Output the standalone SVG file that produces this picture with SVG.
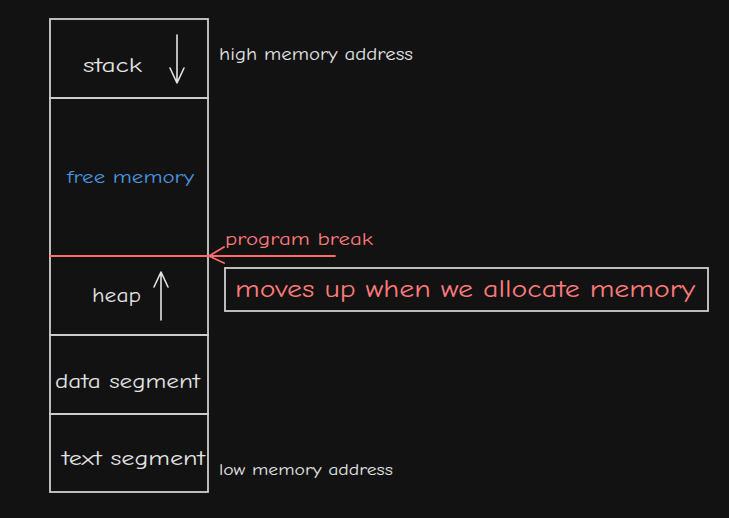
<svg xmlns="http://www.w3.org/2000/svg" width="729" height="518" viewBox="0 0 729 518">
<style>
.box{fill:none;stroke:#cfcfcf;stroke-width:1.8}
.t{font-family:"Comic Neue","Open Sans","Liberation Sans",sans-serif;fill:#e3e3e3}
.red{fill:#ff7b7b}
.blue{fill:#4a97e0}
.ln{fill:none;stroke:#e3e3e3;stroke-width:1.6;stroke-linecap:round;stroke-linejoin:round}
.rl{fill:none;stroke:#ff6b6b;stroke-width:1.8;stroke-linecap:round;stroke-linejoin:round}
</style>
<rect width="729" height="518" fill="#121212"/>
<g id="stack">
<rect class="box" x="50" y="19" width="158" height="79"/>
<text class="t" x="83" y="72" font-size="20" textLength="59" lengthAdjust="spacingAndGlyphs">stack</text>
<path class="ln" d="M177 35 V83 M170 68 L177 83 L184 68"/>
</g>
<g id="free-memory">
<rect class="box" x="50" y="98" width="158" height="158"/>
<text class="t blue" x="67" y="183" font-size="19" textLength="127" lengthAdjust="spacingAndGlyphs">free memory</text>
</g>
<g id="heap">
<rect class="box" x="50" y="256" width="158" height="79"/>
<text class="t" x="92" y="302" font-size="20" textLength="49" lengthAdjust="spacingAndGlyphs">heap</text>
<path class="ln" d="M161 320 V272 M154 287 L161 272 L168 287"/>
</g>
<g id="data-segment">
<rect class="box" x="50" y="335" width="158" height="79"/>
<text class="t" x="55" y="388" font-size="20" textLength="145" lengthAdjust="spacingAndGlyphs">data segment</text>
</g>
<g id="text-segment">
<rect class="box" x="50" y="414" width="158" height="78"/>
<text class="t" x="62" y="465" font-size="20" textLength="143" lengthAdjust="spacingAndGlyphs">text segment</text>
</g>
<g id="high-label">
<text class="t" x="219" y="60" font-size="17" textLength="194" lengthAdjust="spacingAndGlyphs">high memory address</text>
</g>
<g id="low-label">
<text class="t" x="219" y="475" font-size="16" textLength="174" lengthAdjust="spacingAndGlyphs">low memory address</text>
</g>
<g id="program-break">
<text class="t red" x="225" y="245" font-size="17" textLength="148" lengthAdjust="spacingAndGlyphs">program break</text>
</g>
<g id="note">
<rect class="box" x="225" y="268" width="483" height="43"/>
<text class="t red" x="235" y="297" font-size="25" textLength="460" lengthAdjust="spacingAndGlyphs">moves up when we allocate memory</text>
</g>
<g id="connectors">
<path class="rl" d="M50 256 H335"/>
<path class="rl" d="M224 247 L209 256 L224 263"/>
</g>
</svg>
